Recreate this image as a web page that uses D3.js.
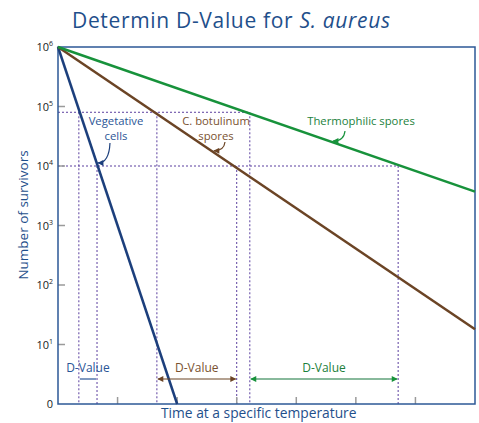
<!DOCTYPE html>
<html>
    <head>
        <title>Determin D-Value</title>
        <script src="https://d3js.org/d3.v7.min.js"></script>
        <style>
            body { margin: 0; background: #fff; }
            text { font-family: 'Open Sans', 'Noto Sans', sans-serif; }
        </style>
    </head>
    <body>
        <svg id="chart" width="479" height="423"></svg>
        <script>
            // time units on x, survivors (log) on y
            var decades = [0, 1, 2, 3, 4, 5, 6];
            var timeTicks = [1, 2, 3, 4, 5, 6];

            var seriesNames = ['Vegetative cells', 'C. botulinum spores', 'Thermophilic spores'];
            var seriesColors = ['#1c3f7c', '#6b4425', '#17923b'];
            var seriesStart = [[0, 1e6], [0, 1e6], [0, 1e6]];
            var seriesEnd = [[2, 1], [7, 18], [7, 3700]];

            // guide lines: survivor level and where each curve crosses it
            var guideLevels = [8e4, 1e4];
            var guideLevelEnds = [3.22, 5.71];
            var dStart = [0.35, 1.66, 3.22];
            var dEnd = [0.655, 3.0, 5.71];

            var svg = d3.select('#chart');
            var x = d3.scaleLinear().domain([0, 7]).range([58, 475]);
            var y = d3.scaleLog().domain([1, 1e6]).range([404, 47]);

            var purple = '#5b3f9f';
            var axisBlue = '#2d5896';

            // title
            var title = svg.append('text')
                .attr('x', 72).attr('y', 28)
                .attr('font-size', 21)
                .attr('textLength', 318)
                .attr('fill', '#1f4f8b');
            title.append('tspan').text('Determin D-Value for ');
            title.append('tspan').attr('font-style', 'italic').text('S. aureus');

            // dashed guides
            var g = svg.append('g')
                .attr('stroke', purple)
                .attr('stroke-width', 1)
                .attr('stroke-dasharray', '2,2');
            guideLevels.forEach(function (lv, i) {
                g.append('line')
                    .attr('x1', x(0)).attr('x2', x(guideLevelEnds[i]))
                    .attr('y1', y(lv)).attr('y2', y(lv));
            });
            dStart.forEach(function (v) {
                g.append('line').attr('x1', x(v)).attr('x2', x(v))
                    .attr('y1', y(guideLevels[0])).attr('y2', y(1));
            });
            dEnd.forEach(function (v) {
                g.append('line').attr('x1', x(v)).attr('x2', x(v))
                    .attr('y1', y(guideLevels[1])).attr('y2', y(1));
            });

            // ticks
            decades.slice(1, 6).forEach(function (d) {
                svg.append('line')
                    .attr('x1', x(0)).attr('x2', x(0) + 7)
                    .attr('y1', y(Math.pow(10, d))).attr('y2', y(Math.pow(10, d)))
                    .attr('stroke', '#9a9a9a').attr('stroke-width', 1.5);
            });
            timeTicks.forEach(function (t) {
                svg.append('line')
                    .attr('x1', x(t)).attr('x2', x(t))
                    .attr('y1', y(1)).attr('y2', y(1) - 7)
                    .attr('stroke', '#9a9a9a').attr('stroke-width', 1.5);
            });

            // tick labels
            decades.forEach(function (d) {
                var t = svg.append('text')
                    .attr('x', 53).attr('y', y(Math.pow(10, d)) + 4)
                    .attr('text-anchor', 'end')
                    .attr('font-size', 11)
                    .attr('fill', '#222');
                if (d === 0) {
                    t.text('0');
                } else {
                    t.append('tspan').text('10');
                    t.append('tspan').attr('font-size', 7).attr('dy', -5).text(d);
                }
            });

            // frame
            svg.append('rect')
                .attr('x', x(0)).attr('y', y(1e6))
                .attr('width', x(7) - x(0)).attr('height', y(1) - y(1e6))
                .attr('fill', 'none').attr('stroke', axisBlue).attr('stroke-width', 1.5);

            // survivor curves
            var line = d3.line().x(function (d) { return x(d[0]); }).y(function (d) { return y(d[1]); });
            seriesNames.forEach(function (n, i) {
                svg.append('path')
                    .datum([seriesStart[i], seriesEnd[i]])
                    .attr('d', line)
                    .attr('fill', 'none')
                    .attr('stroke', seriesColors[i])
                    .attr('stroke-width', 2.5);
            });

            function valueAt(i, t) {
                var a = seriesStart[i], b = seriesEnd[i];
                var la = Math.log10(a[1]), lb = Math.log10(b[1]);
                return Math.pow(10, la + (lb - la) * (t - a[0]) / (b[0] - a[0]));
            }

            // arrow markers
            var defs = svg.append('defs');
            seriesColors.forEach(function (c, i) {
                defs.append('marker')
                    .attr('id', 'ah' + i)
                    .attr('viewBox', '0 0 10 10')
                    .attr('refX', 9).attr('refY', 5)
                    .attr('markerWidth', 7).attr('markerHeight', 6)
                    .attr('markerUnits', 'userSpaceOnUse')
                    .attr('orient', 'auto-start-reverse')
                    .append('path').attr('d', 'M0,0L10,5L0,10z').attr('fill', c);
            });

            // series labels with curved pointers
            var labels = [
                { lines: ['Vegetative', 'cells'], cx: 116, ty: 125, at: 0.655, sx: 110, sy: 143, fill: '#2a5596' },
                { lines: ['C. botulinum', 'spores'], cx: 216, ty: 125, at: 2.6, sx: 225, sy: 142, fill: '#7a5230' },
                { lines: ['Thermophilic spores'], cx: 361, ty: 125, at: 4.6, sx: 345, sy: 131, fill: '#1c7f3c' }
            ];
            labels.forEach(function (l, i) {
                l.lines.forEach(function (s, k) {
                    svg.append('text')
                        .attr('text-anchor', 'middle')
                        .attr('font-size', 11.3)
                        .attr('fill', l.fill)
                        .attr('x', l.cx).attr('y', l.ty + k * 15)
                        .text(s);
                });
                var ex = x(l.at), ey = y(valueAt(i, l.at));
                ex += 1; ey -= 1;
                svg.append('path')
                    .attr('d', 'M' + l.sx + ',' + l.sy + 'Q' + (l.sx - 1) + ',' + (ey) + ' ' + ex + ',' + ey)
                    .attr('fill', 'none')
                    .attr('stroke', seriesColors[i])
                    .attr('stroke-width', 1.2)
                    .attr('marker-end', 'url(#ah' + i + ')');
            });

            // D-Value spans
            var dColors = ['#2a5596', '#7a5230', '#1c7f3c'];
            var dArrow = ['#2a5596', '#6b4425', '#12743a'];
            dStart.forEach(function (s, i) {
                var mx = (x(s) + x(dEnd[i])) / 2;
                svg.append('text')
                    .attr('x', mx).attr('y', 372)
                    .attr('text-anchor', 'middle')
                    .attr('font-size', 12)
                    .attr('fill', dColors[i])
                    .text('D-Value');
                svg.append('line')
                    .attr('x1', x(s) + 1).attr('x2', x(dEnd[i]) - 1)
                    .attr('y1', 379).attr('y2', 379)
                    .attr('stroke', dArrow[i]).attr('stroke-width', 1.2)
                    .attr('marker-start', i === 0 ? null : 'url(#ah' + i + ')')
                    .attr('marker-end', i === 0 ? null : 'url(#ah' + i + ')');
            });

            // axis titles
            svg.append('text')
                .attr('x', x(3.37)).attr('y', 418)
                .attr('text-anchor', 'middle')
                .attr('font-size', 13.8)
                .attr('fill', '#1f4f8b')
                .text('Time at a specific temperature');
            svg.append('text')
                .attr('transform', 'translate(28,215) rotate(-90)')
                .attr('text-anchor', 'middle')
                .attr('font-size', 13.5)
                .attr('fill', '#1f4f8b')
                .text('Number of survivors');
        </script>
    </body>
</html>
